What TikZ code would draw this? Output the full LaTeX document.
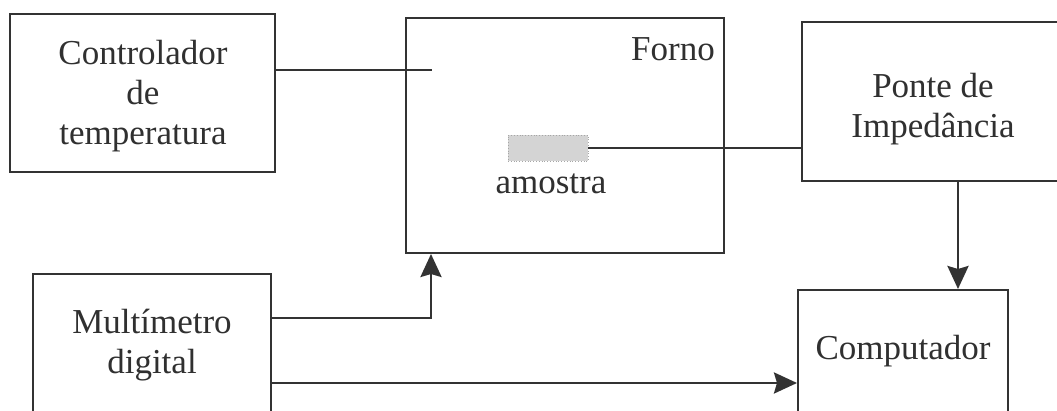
\documentclass[tikz,border=0pt]{standalone}
\usepackage{fontspec}
\setmainfont{Liberation Serif}
\usetikzlibrary{arrows.meta}
\definecolor{ink}{HTML}{333333}
\definecolor{txt}{HTML}{303030}
\tikzset{
  box/.style={draw=ink, line width=2pt, inner sep=0pt},
  lbl/.style={text=txt, font=\fontsize{35}{40}\selectfont, align=center, inner sep=0pt},
  conn/.style={draw=ink, line width=2.8pt},
  arr/.style={conn, -{Stealth[length=23pt,width=21pt,inset=3pt]}},
  x=1pt, y=1pt
}
\begin{document}
\begin{tikzpicture}
\useasboundingbox (0,0) rectangle (1057,411);
\clip (0,0) rectangle (1057,411);
\fill[white] (0,0) rectangle (1057,411);
% boxes
\node[box, minimum width=265pt, minimum height=158pt] (ctrl) at (142.5,318) {};
\node[lbl] (ctrlt) at (143,315) {Controlador\\de\\temperatura};
\node[box, minimum width=318pt, minimum height=235pt] (forno) at (565,275.5) {};
\node[lbl] (fornot) at (673,362) {Forno};
\node[draw=gray!70, dotted, line width=0.8pt, fill=black!17, minimum width=80pt, minimum height=26pt, inner sep=0pt] (amostra) at (548,263) {};
\node[lbl] (amostrat) at (551,227) {amostra};
\node[box, minimum width=280pt, minimum height=159pt] (ponte) at (942,309.5) {};
\node[lbl] (pontet) at (933,302) {Ponte de\\Impedância};
\node[box, minimum width=210pt, minimum height=160pt] (comp) at (903,41) {};
\node[lbl] (compt) at (903,60) {Computador};
\node[box, minimum width=238pt, minimum height=180pt] (multi) at (152,47) {};
\node[lbl] (multit) at (152,66) {Multímetro\\digital};
% connectors
\coordinate (cend) at (432,341);
\draw[conn] (ctrl.east |- cend) -- (cend);
\draw[conn] (amostra.east) -- (ponte.west |- amostra.east);
\draw[arr] (ponte.south -| 958,0) -- (comp.north -| 958,0);
\coordinate (mf) at (431,93);
\draw[arr] (multi.east |- mf) -- (mf) -- (forno.south -| mf);
\coordinate (mc) at (0,28);
\draw[arr] (multi.east |- mc) -- (comp.west |- mc);
\end{tikzpicture}
\end{document}
